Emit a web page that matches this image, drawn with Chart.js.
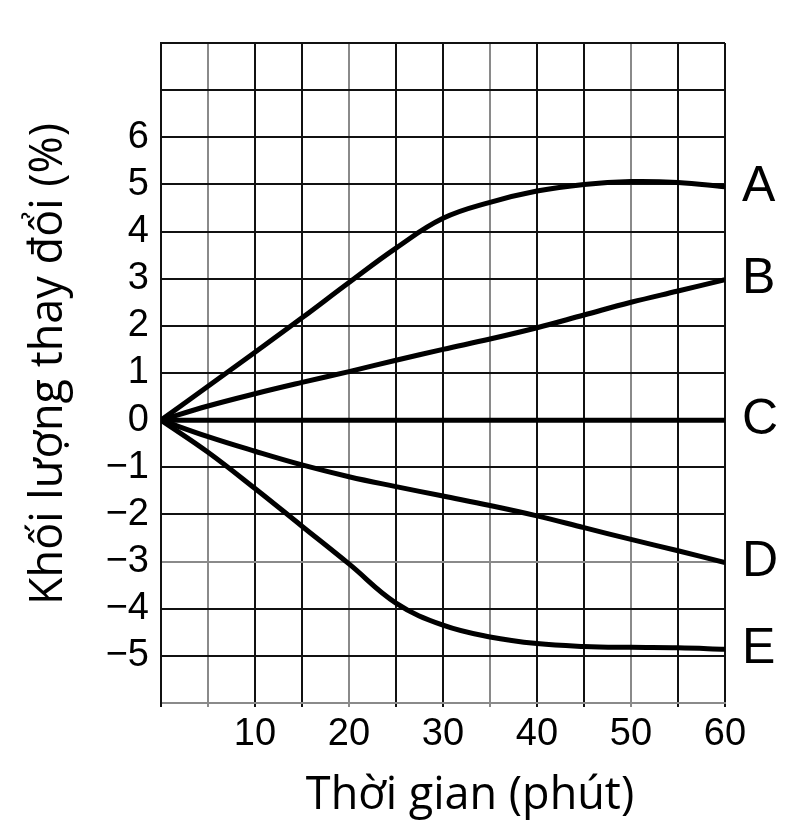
<!DOCTYPE html>
<html>
<head>
<meta charset="utf-8">
<script src="https://cdn.jsdelivr.net/npm/chart.js@4.4.1/dist/chart.umd.min.js"></script>
<style>
  html, body { margin: 0; padding: 0; background: #fff; }
  canvas { display: block; }
</style>
</head>
<body>
<canvas id="massChart" width="801" height="839"></canvas>
<script>
// thời gian (phút) và khối lượng thay đổi (%) của từng dung dịch
const minutes = [0, 5, 10, 15, 20, 25, 30, 35, 40, 45, 50, 55, 60];
const seriesA = [0, 0.72, 1.44, 2.17, 2.92, 3.65, 4.28, 4.62, 4.86, 5.0, 5.06, 5.04, 4.95];
const seriesB = [0, 0.3, 0.56, 0.8, 1.03, 1.27, 1.5, 1.72, 1.96, 2.23, 2.5, 2.74, 2.98];
const seriesC = [0, 0, 0, 0, 0, 0, 0, 0, 0, 0, 0, 0, 0];
const seriesD = [0, -0.35, -0.66, -0.95, -1.2, -1.41, -1.61, -1.81, -2.03, -2.28, -2.53, -2.77, -3.02];
const seriesE = [0, -0.68, -1.45, -2.25, -3.05, -3.88, -4.35, -4.6, -4.74, -4.8, -4.82, -4.83, -4.86];
const seriesNames = ['A', 'B', 'C', 'D', 'E'];
const xTickLabels = [10, 20, 30, 40, 50, 60];
const yTickLabels = [-5, -4, -3, -2, -1, 0, 1, 2, 3, 4, 5, 6];
const xTitle = 'Thời gian (phút)';
const yTitle = 'Khối lượng thay đổi (%)';

const allSeries = [seriesA, seriesB, seriesC, seriesD, seriesE];

// mấy đường lưới bị nhạt trong hình gốc
const lightX = [5, 20, 35, 50];
const lightY = [-3, -6];
const dark = '#111';
const light = '#8a8a8a';

const datasets = allSeries.map(function(vals, i) {
    return {
        label: seriesNames[i],
        data: minutes.map(function(m, j) { return { x: m, y: vals[j] }; }),
        borderColor: '#000',
        borderWidth: 5,
        pointRadius: 0,
        fill: false,
        tension: 0.4
    };
});

const labelsPlugin = {
    id: 'curveLabels',
    afterDraw: function(chart) {
        const ctx = chart.ctx;
        const area = chart.chartArea;
        const y = chart.scales.y;
        ctx.save();
        ctx.fillStyle = '#000';

        // tên đường ở cuối mỗi đường
        ctx.font = '50px "Liberation Sans", Arial, sans-serif';
        ctx.textAlign = 'left';
        ctx.textBaseline = 'middle';
        allSeries.forEach(function(vals, i) {
            ctx.fillText(seriesNames[i], area.right + 17, y.getPixelForValue(vals[vals.length - 1]));
        });

        // tiêu đề trục
        ctx.font = '45px "Open Sans", sans-serif';
        ctx.textAlign = 'center';
        ctx.fillText(xTitle, (area.left + area.right) / 2 + 27, area.bottom + 93);

        ctx.translate(area.left - 112, (area.top + area.bottom) / 2 - 9);
        ctx.rotate(-Math.PI / 2);
        ctx.fillText(yTitle, 0, 0);
        ctx.restore();
    }
};

const ctx = document.getElementById('massChart').getContext('2d');
const massChart = new Chart(ctx, {
    type: 'line',
    data: { datasets: datasets },
    options: {
        responsive: false,
        animation: false,
        devicePixelRatio: 1,
        layout: { padding: { top: 43, right: 76, left: 0, bottom: 0 } },
        plugins: {
            legend: { display: false },
            tooltip: { enabled: false }
        },
        scales: {
            x: {
                type: 'linear',
                min: 0,
                max: 60,
                afterFit: function(scale) { scale.height = 136; },
                afterBuildTicks: function(scale) {
                    scale.ticks = minutes.map(function(m) { return { value: m }; });
                },
                grid: {
                    color: function(c) { return lightX.includes(c.tick.value) ? light : dark; },
                    lineWidth: 2,
                    drawTicks: true,
                    tickLength: 4
                },
                border: { color: light, width: 2 },
                ticks: {
                    autoSkip: false,
                    maxRotation: 0,
                    padding: 5,
                    color: '#000',
                    font: { family: '"Liberation Sans", Arial, sans-serif', size: 38 },
                    callback: function(v) { return xTickLabels.includes(v) ? String(v) : ''; }
                }
            },
            y: {
                type: 'linear',
                min: -6,
                max: 8,
                afterFit: function(scale) { scale.width = 161; },
                afterBuildTicks: function(scale) {
                    const t = [];
                    for (let v = -6; v <= 8; v++) t.push({ value: v });
                    scale.ticks = t;
                },
                grid: {
                    color: function(c) { return lightY.includes(c.tick.value) ? light : dark; },
                    lineWidth: 2,
                    drawTicks: false
                },
                border: { color: dark, width: 2 },
                ticks: {
                    autoSkip: false,
                    padding: 12,
                    color: '#000',
                    font: { family: '"Liberation Sans", Arial, sans-serif', size: 38 },
                    callback: function(v) {
                        if (!yTickLabels.includes(v)) return '';
                        return v < 0 ? '\u2212' + Math.abs(v) : String(v);
                    }
                }
            }
        }
    },
    plugins: [labelsPlugin]
});
</script>
</body>
</html>
